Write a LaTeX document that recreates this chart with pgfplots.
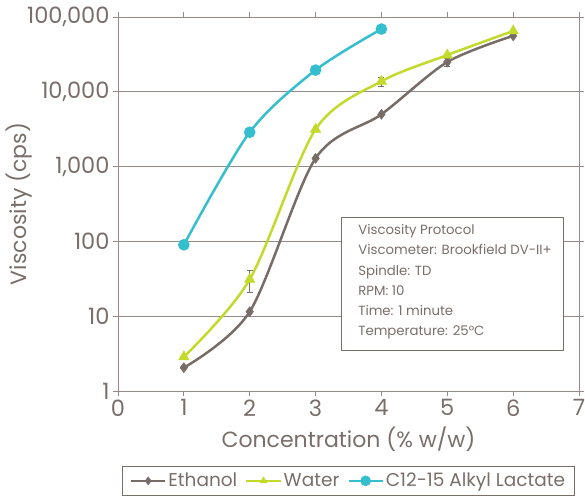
\documentclass[border=0pt]{standalone}
\usepackage{pgfplots}
\pgfplotsset{compat=1.18}
\usepackage{fontspec}
\setmainfont{Poppins}
\definecolor{txt}{HTML}{7A6E6A}
\definecolor{eth}{HTML}{786C68}
\definecolor{wat}{HTML}{C3DA2C}
\definecolor{alk}{HTML}{35BFCE}
\definecolor{grd}{HTML}{958A87}
\begin{document}
\begin{tikzpicture}
\begin{axis}[
  scale only axis, width=461pt, height=374pt,
  ymode=log, xmin=0, xmax=7, ymin=1, ymax=100000,
  xtick={0,1,...,7},
  ytick={1,10,100,1000,10000,100000},
  yticklabels={1,10,100,{1,000},{10,000},{100,000}},
  /pgf/number format/assume math mode=true,
  ticklabel style={font=\fontsize{22.5}{24}\selectfont, text=txt},
  xlabel={Concentration (\% w/w)}, ylabel={Viscosity (cps)},
  label style={font=\fontsize{22}{24}\selectfont, text=txt},
  xlabel style={yshift=-4pt},
  ylabel style={at={(axis description cs:0,0.5)}, anchor=south, yshift=82pt},
  axis line style={grd, line width=0.9pt},
  tick style={grd, line width=0.9pt},
  tick align=outside, major tick length=5pt,
  minor tick num=0, yminorticks=false,
  ymajorgrids, grid style={grd, line width=0.9pt},
  legend columns=-1,
  legend style={at={(0.5,-0.2)}, anchor=north, draw=txt, line width=0.9pt,
    font=\fontsize{18.5}{20}\selectfont, text=txt, inner xsep=7pt, inner ysep=5pt,
    /tikz/every even column/.append style={column sep=6pt}},
  legend image code/.code={%
    \draw[mark repeat=2,mark phase=2,#1] plot coordinates {(0pt,0pt) (17pt,0pt) (34pt,0pt)};},
  legend image post style={line width=2.5pt, mark size=4pt},
  every axis plot/.append style={line width=2.5pt, smooth, tension=0.5},
]
\addplot[eth, mark=diamond*, mark size=5pt, mark options={fill=eth, draw=eth, line width=0.5pt},
  error bars/.cd, y dir=both, y explicit, error bar style={line width=0.5pt, txt}, error mark options={line width=0.6pt, rotate=90, mark size=3pt, draw=txt}]
  coordinates {(1,2.05) (2,11.5) (3,1290) (4,5000) (5,25000) +- (0,3000) (6,56000)};
\addlegendentry{Ethanol}
\addplot[wat, mark=triangle*, mark size=6pt, mark options={fill=wat, draw=wat, line width=0.5pt},
  error bars/.cd, y dir=both, y explicit, error bar style={line width=0.5pt, txt}, error mark options={line width=0.6pt, rotate=90, mark size=3pt, draw=txt}]
  coordinates {(1,2.86) (2,31) +- (0,10) (3,3150) (4,13800) +- (0,2000) (5,31000) (6,65000)};
\addlegendentry{Water}
\addplot[alk, mark=*, mark size=4.5pt, mark options={fill=alk, draw=alk}]
  coordinates {(1,90) (2,2880) (3,19500) (4,69000)};
\addlegendentry{C12-15 Alkyl Lactate}
\node[draw=txt, line width=0.9pt, fill=white, anchor=north west, inner sep=0pt,
  minimum width=222pt, minimum height=133pt] at (rel axis cs:0.484,0.465) {};
\node[anchor=north west, align=left, text=txt, inner sep=0pt,
  font=\fontsize{13.3}{20.3}\selectfont] at ([xshift=17pt,yshift=-7pt]rel axis cs:0.484,0.465)
  {Viscosity Protocol\\Viscometer: Brookfield DV-II+\\Spindle: TD\\RPM: 10\\Time: 1 minute\\Temperature: 25°C};
\end{axis}
\pgfresetboundingbox
\path[use as bounding box] (-118pt,-109pt) rectangle (467pt,391pt);
\end{tikzpicture}
\end{document}
